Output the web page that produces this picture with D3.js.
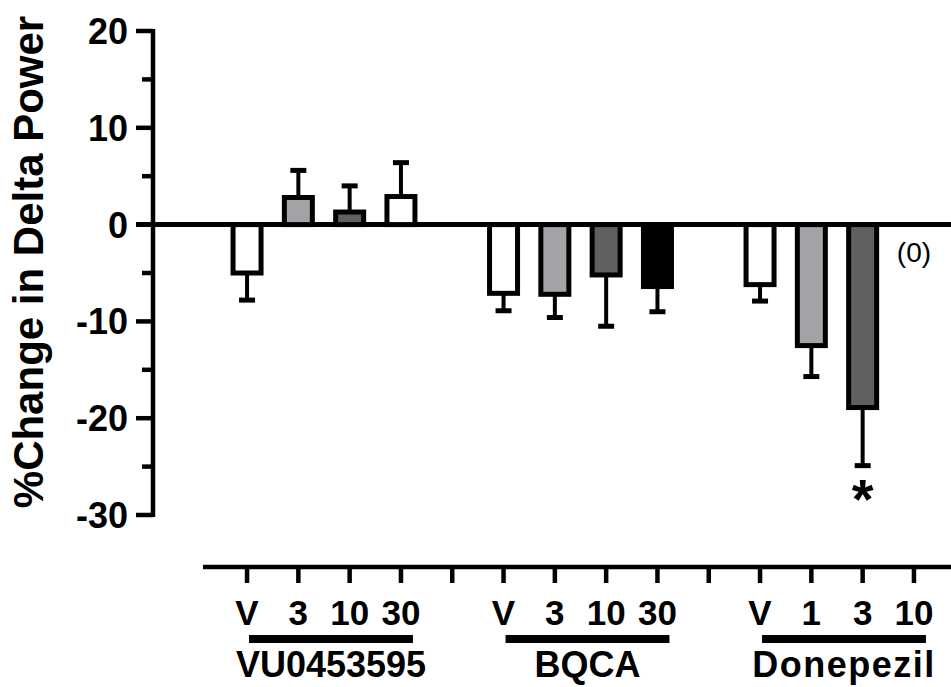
<!DOCTYPE html>
<html>
<head>
<meta charset="utf-8">
<script src="https://cdn.jsdelivr.net/npm/d3@7"></script>
<style>
  html, body { margin: 0; padding: 0; background: #fff; }
  svg { display: block; }
  text { font-family: "Liberation Sans", Arial, sans-serif; fill: #000; }
</style>
</head>
<body>
<svg id="chart" width="951" height="687"></svg>
<script>
// ---- data ----
const groups = ["VU0453595", "BQCA", "Donepezil"];
const slots = ["VU-V", "VU-3", "VU-10", "VU-30", "gap1", "BQ-V", "BQ-3", "BQ-10", "BQ-30", "gap2", "DO-V", "DO-1", "DO-3", "DO-10"];
const doseLabels = ["V", "3", "10", "30", "", "V", "3", "10", "30", "", "V", "1", "3", "10"];
const means = [-5.0, 2.8, 1.3, 2.9, null, -7.1, -7.2, -5.2, -6.4, null, -6.2, -12.5, -18.9, null];
const errors = [2.8, 2.8, 2.7, 3.5, null, 1.8, 2.4, 5.3, 2.6, null, 1.7, 3.2, 6.0, null];
const groupSlots = [[0, 3], [5, 8], [10, 13]];
const yTicks = [20, 10, 0, -10, -20, -30];
const yMinorTicks = [15, 5, -5, -15, -25];
const notes = [{ slot: 12, text: "*" }, { slot: 13, text: "(0)" }];

// ---- style ----
const fills = ["#ffffff", "#a3a3a7", "#606060", "#ffffff", null, "#ffffff", "#a3a3a7", "#606060", "#000000", null, "#ffffff", "#a3a3a7", "#606060", null];

const svg = d3.select("#chart");

const y = d3.scaleLinear().domain([-30, 20]).range([515, 31]);
const x = d3.scaleBand().domain(slots).range([221.4, 939.6]).padding(0);
const cx = s => x(s) + x.bandwidth() / 2;
const barW = 28;

// zero line
svg.append("line")
  .attr("x1", 136).attr("x2", 951)
  .attr("y1", y(0)).attr("y2", y(0))
  .attr("stroke", "#000").attr("stroke-width", 5);

// bars
const bars = slots.map((s, i) => ({ s, i, v: means[i], e: errors[i], f: fills[i] })).filter(d => d.v !== null);

svg.append("g").selectAll("rect").data(bars).join("rect")
  .attr("x", d => cx(d.s) - barW / 2)
  .attr("width", barW)
  .attr("y", d => Math.min(y(d.v), y(0)))
  .attr("height", d => Math.abs(y(d.v) - y(0)))
  .attr("fill", d => d.f)
  .attr("stroke", "#000").attr("stroke-width", 5);

// error bars (one-sided)
const eg = svg.append("g");
eg.selectAll("line.v").data(bars).join("line").attr("class", "v")
  .attr("x1", d => cx(d.s)).attr("x2", d => cx(d.s))
  .attr("y1", d => y(d.v))
  .attr("y2", d => y(d.v + Math.sign(d.v) * d.e))
  .attr("stroke", "#000").attr("stroke-width", 4);
eg.selectAll("line.c").data(bars).join("line").attr("class", "c")
  .attr("x1", d => cx(d.s) - 8).attr("x2", d => cx(d.s) + 8)
  .attr("y1", d => y(d.v + Math.sign(d.v) * d.e))
  .attr("y2", d => y(d.v + Math.sign(d.v) * d.e))
  .attr("stroke", "#000").attr("stroke-width", 5);

// y axis
const ya = svg.append("g");
ya.append("line").attr("x1", 153).attr("x2", 153).attr("y1", y(20) - 2).attr("y2", y(-30) + 2)
  .attr("stroke", "#000").attr("stroke-width", 4.5);
ya.selectAll("line.maj").data(yTicks).join("line").attr("class", "maj")
  .attr("x1", 136).attr("x2", 153).attr("y1", d => y(d)).attr("y2", d => y(d))
  .attr("stroke", "#000").attr("stroke-width", 4.5);
ya.selectAll("line.min").data(yMinorTicks).join("line").attr("class", "min")
  .attr("x1", 142).attr("x2", 153).attr("y1", d => y(d)).attr("y2", d => y(d))
  .attr("stroke", "#000").attr("stroke-width", 4.5);
ya.selectAll("text").data(yTicks).join("text")
  .attr("x", 128).attr("y", d => y(d)).attr("dy", "0.36em")
  .attr("text-anchor", "end").attr("font-weight", "bold").attr("font-size", 36)
  .text(d => d);

svg.append("text")
  .attr("transform", "translate(43,262) rotate(-90)")
  .attr("text-anchor", "middle").attr("font-weight", "bold").attr("font-size", 42)
  .text("%Change in Delta Power");

// x axis
const xa = svg.append("g");
const xAxisY = 567;
xa.append("line").attr("x1", 203).attr("x2", 951).attr("y1", xAxisY).attr("y2", xAxisY)
  .attr("stroke", "#000").attr("stroke-width", 4.5);
xa.selectAll("line.t").data(slots).join("line").attr("class", "t")
  .attr("x1", d => cx(d)).attr("x2", d => cx(d))
  .attr("y1", xAxisY).attr("y2", xAxisY + 16)
  .attr("stroke", "#000").attr("stroke-width", 4.5);
xa.selectAll("text").data(slots).join("text")
  .attr("x", d => cx(d)).attr("y", 625)
  .attr("text-anchor", "middle").attr("font-weight", "bold").attr("font-size", 35)
  .text((d, i) => doseLabels[i]);

// group underlines & labels
const gg = svg.append("g");
gg.selectAll("line").data(groupSlots).join("line")
  .attr("x1", d => cx(slots[d[0]]) + 2).attr("x2", d => cx(slots[d[1]]) + 12)
  .attr("y1", 639).attr("y2", 639)
  .attr("stroke", "#000").attr("stroke-width", 8);
gg.selectAll("text").data(groupSlots).join("text")
  .attr("x", d => (cx(slots[d[0]]) + cx(slots[d[1]])) / 2 + 7)
  .attr("y", 677)
  .attr("text-anchor", "middle").attr("font-weight", "bold").attr("font-size", 36)
  .attr("letter-spacing", (d, i) => i === 2 ? 1.5 : 0)
  .text((d, i) => groups[i]);

// annotations
svg.append("text")
  .attr("x", cx(slots[notes[0].slot])).attr("y", 518)
  .attr("text-anchor", "middle").attr("font-weight", "bold").attr("font-size", 56)
  .text(notes[0].text);
svg.append("text")
  .attr("x", cx(slots[notes[1].slot])).attr("y", 252).attr("dy", "0.36em")
  .attr("text-anchor", "middle").attr("font-size", 28)
  .text(notes[1].text);
</script>
</body>
</html>
